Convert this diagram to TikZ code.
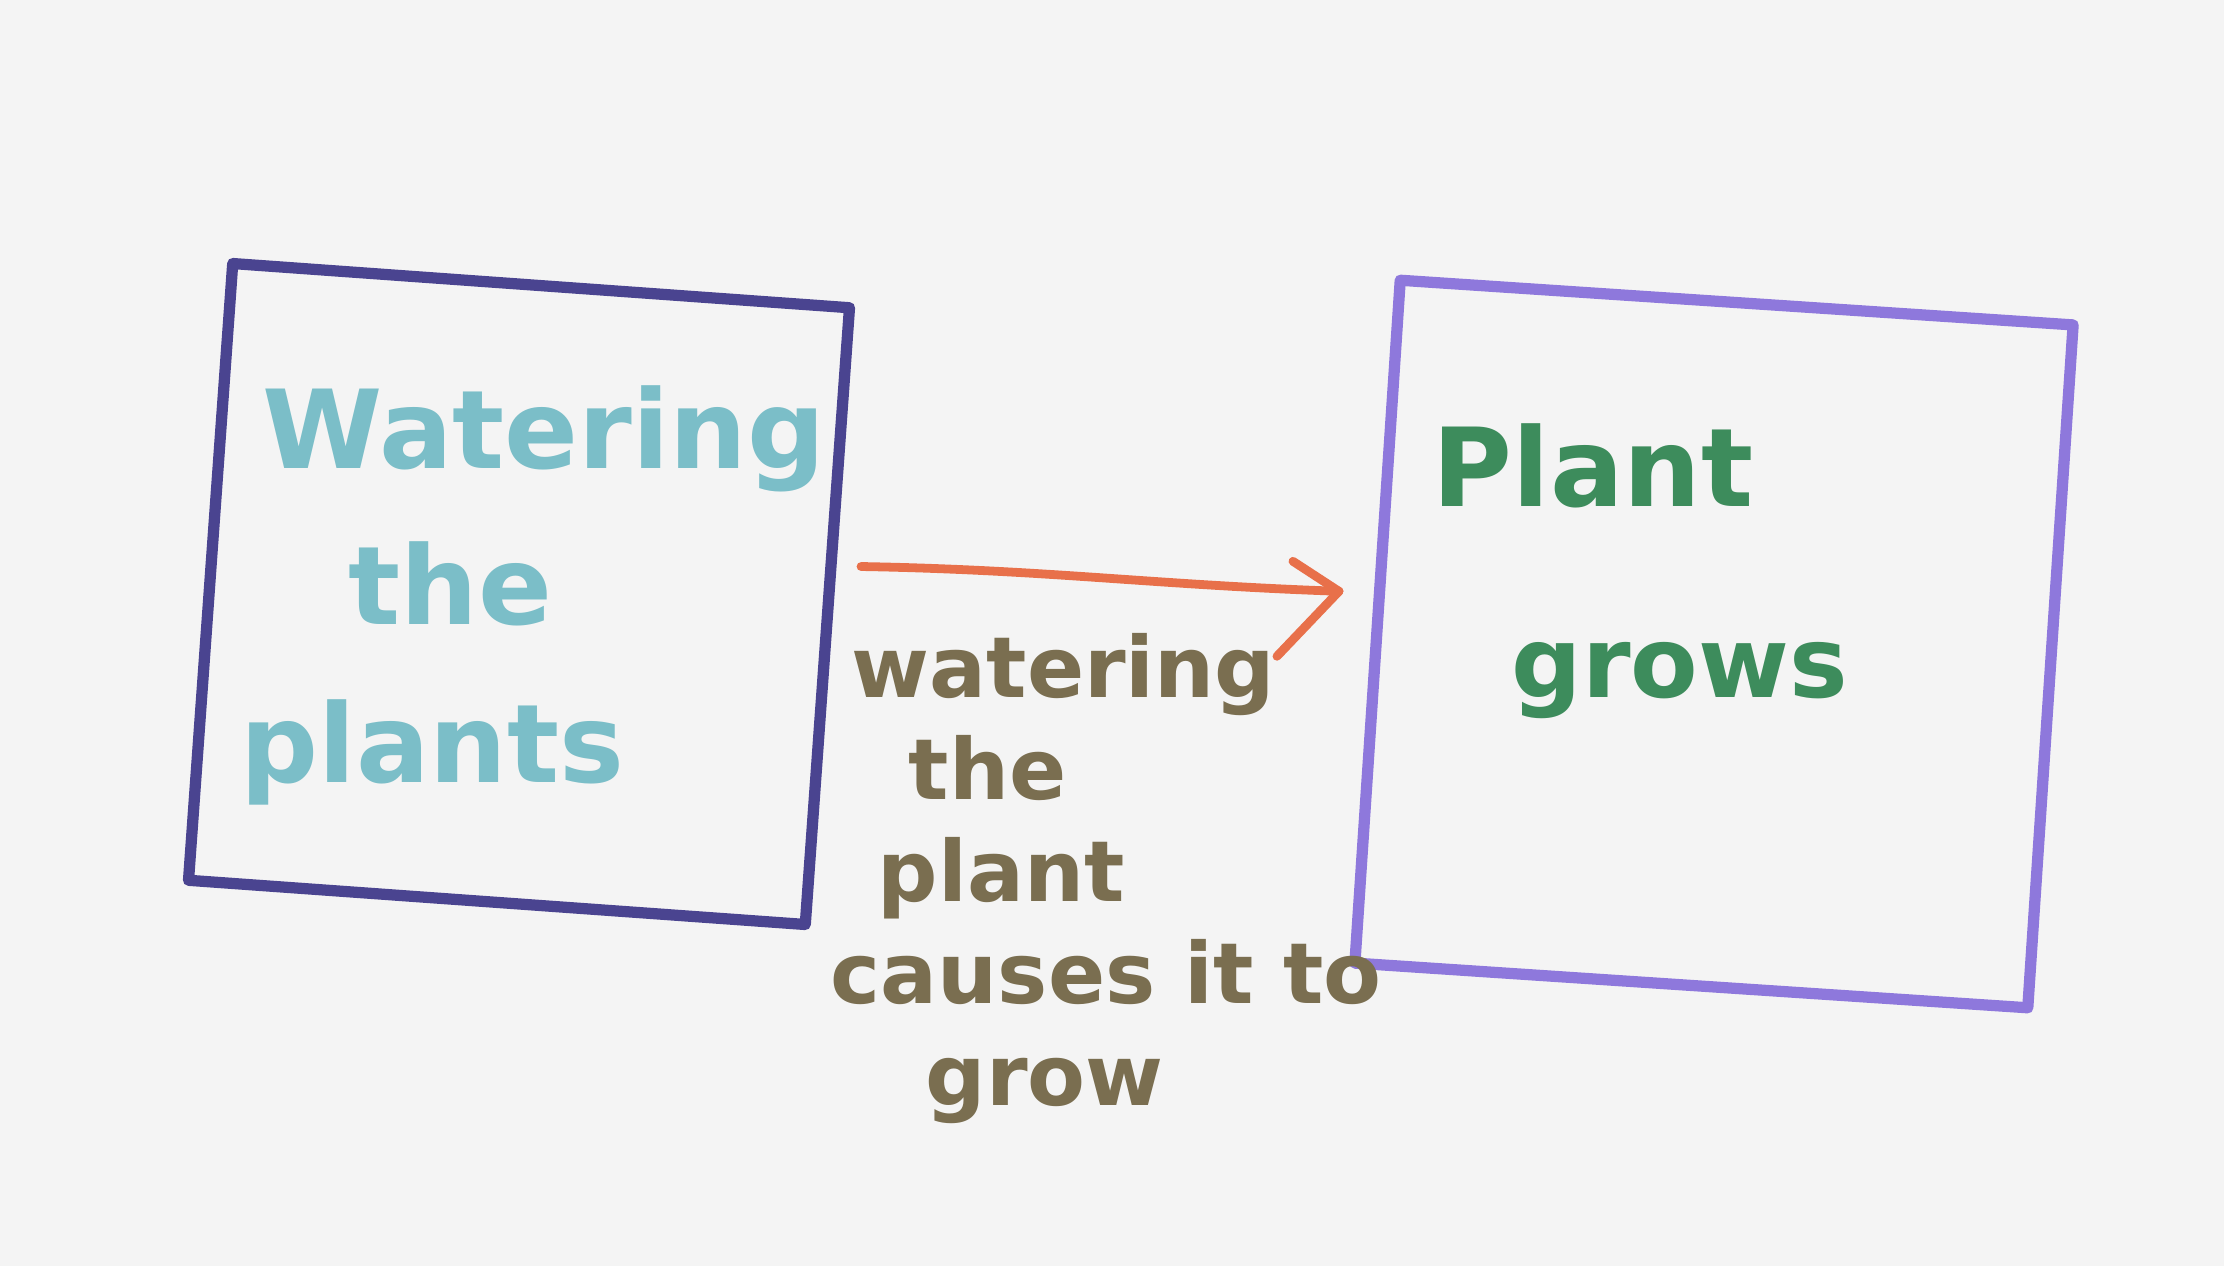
\documentclass[tikz,border=0pt]{standalone}
\usepackage{fontspec}
\setmainfont{DejaVu Sans}
\usetikzlibrary{calc}

\definecolor{paper}{HTML}{F4F4F4}
\definecolor{causebox}{HTML}{4A4490}
\definecolor{effectbox}{HTML}{8E78DC}
\definecolor{causeink}{HTML}{7BBEC8}
\definecolor{effectink}{HTML}{3D8C5C}
\definecolor{linkink}{HTML}{E8704A}
\definecolor{noteink}{HTML}{7A6E50}

\tikzset{
  frame/.style={draw, line width=3.2pt, line join=round, inner sep=0pt},
  handtext/.style={inner sep=0pt, anchor=base west, font=\bfseries\fontsize{31}{34}\selectfont},
  notetext/.style={inner sep=0pt, anchor=base west, text=noteink, font=\bfseries\fontsize{24}{26}\selectfont},
  link/.style={draw=linkink, line width=2.5pt, line cap=round, line join=round}
}

\begin{document}
\begin{tikzpicture}[x=0.01cm, y=-0.01cm]
  % page
  \fill[paper] (0,0) rectangle (2224,1266);
  \useasboundingbox (0,0) rectangle (2224,1266);

  % the two boxes
  \node[frame, draw=causebox, minimum width=6.18cm, minimum height=6.18cm,
        rotate=-4.1] (cause) at (519,594) {};
  \node[frame, draw=effectbox, minimum width=6.74cm, minimum height=6.84cm,
        rotate=-3.8] (effect) at (1714,644) {};

  % text in the left box
  \node[handtext, text=causeink] (c1) at (262,468) {Watering};
  \node[handtext, text=causeink] (c2) at (348,624) {the};
  \node[handtext, text=causeink] (c3) at (240,782) {plants};

  % text in the right box
  \node[handtext, text=effectink] (e1) at (1432,506) {Plant};
  \node[handtext, text=effectink, font=\bfseries\fontsize{28}{30}\selectfont] (e2) at (1511,697) {grows};

  % the link between the boxes
  \coordinate (tail) at ([shift={(28,-50)}]cause.east);
  \coordinate (tip) at ([shift={(-33,-30)}]effect.west);
  \draw[link] (tail) to[out=-1, in=178] (tip);
  \draw[link] (tip) -- ++(-46,-30);
  \draw[link] (tip) -- ++(-62,65);

  % explanation under the link
  \node[notetext] (n1) at (851,697) {watering};
  \node[notetext] (n2) at (908,799) {the};
  \node[notetext] (n3) at (877,901) {plant};
  \node[notetext] (n4) at (830,1003) {causes it to};
  \node[notetext] (n5) at (925,1105) {grow};
\end{tikzpicture}
\end{document}
